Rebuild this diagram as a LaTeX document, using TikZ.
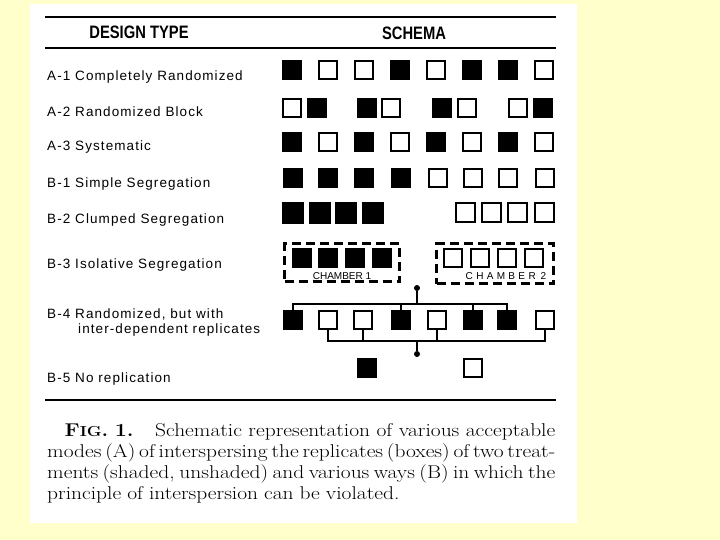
\documentclass[tikz,border=0pt]{standalone}
\usepackage{fontspec}
\usepackage{xcolor}
\usepackage{tikz}
\usetikzlibrary{positioning}

\newfontfamily\arialfont{Liberation Sans}
\newfontfamily\rowfont[LetterSpace=8]{Liberation Sans}
\definecolor{paleyellow}{RGB}{255,255,204}

\tikzset{
  plot/.style={draw=black, line width=2pt, minimum size=18pt, inner sep=0pt, fill=white},
  shaded/.style={plot, fill=black},
  rowlabel/.style={anchor=west, inner sep=0pt, font=\rowfont\fontsize{13.5}{13.5}\selectfont},
  header/.style={inner sep=0pt, xscale=0.82, font=\arialfont\bfseries\fontsize{18}{18}\selectfont},
  chamber/.style={draw, dashed, line width=2.5pt, dash pattern=on 9pt off 5pt, inner sep=0pt},
  chamberlabel/.style={inner sep=0pt, font=\arialfont\fontsize{10}{10}\selectfont},
  hub/.style={circle, fill=black, inner sep=0pt, minimum size=6pt},
  link/.style={line width=1.3pt}
}
\newcommand{\capfont}{\fontsize{18.5}{21}\selectfont\spaceskip=0.28em plus 0.3em minus 0.12em\relax}
\newcommand{\capline}[1]{\makebox[438pt][s]{#1}}

\begin{document}
\begin{tikzpicture}[x=1pt, y=-1pt]
      % page and panel
      \fill[paleyellow] (0,0) rectangle (720,540);
      \useasboundingbox (0,0) rectangle (720,540);
      \fill[white] (30,4) rectangle (577,523);

      % headings
      \draw[line width=1.3pt] (45,17) -- (556,17);
      \draw[line width=1.3pt] (45,48) -- (556,48);
      \node[header] (design) at (139,32) {DESIGN TYPE};
      \node[header] (schema) at (414,33) {SCHEMA};

      % row labels
      \node[rowlabel] (la1) at (47,77) {A-1 Completely Randomized};
      \node[rowlabel] (la2) at (47,112) {A-2 Randomized Block};
      \node[rowlabel] (la3) at (47,147) {A-3 Systematic};
      \node[rowlabel] (lb1) at (47,184) {B-1 Simple Segregation};
      \node[rowlabel] (lb2) at (47,220) {B-2 Clumped Segregation};
      \node[rowlabel] (lb3) at (47,265) {B-3 Isolative Segregation};
      \node[rowlabel] (lb4) at (47,314) {B-4 Randomized, but with};
      \node[rowlabel] (lb4b) at (78,330) {inter-dependent replicates};
      \node[rowlabel] (lb5) at (47,379) {B-5 No replication};

      % A-1
      \node[shaded] (a11) at (292,70) {};
      \node[plot] (a12) at (328,70) {};
      \node[plot] (a13) at (364,70) {};
      \node[shaded] (a14) at (400,70) {};
      \node[plot] (a15) at (436,70) {};
      \node[shaded] (a16) at (472,70) {};
      \node[shaded] (a17) at (508,70) {};
      \node[plot] (a18) at (544,70) {};

      % A-2
      \node[plot] (a21) at (292,108) {};
      \node[shaded] (a22) at (317,108) {};
      \node[shaded] (a23) at (367,108) {};
      \node[plot] (a24) at (391,108) {};
      \node[shaded] (a25) at (442,108) {};
      \node[plot] (a26) at (467,108) {};
      \node[plot] (a27) at (518,108) {};
      \node[shaded] (a28) at (543,108) {};

      % A-3
      \node[shaded] (a31) at (292,142) {};
      \node[plot] (a32) at (328,142) {};
      \node[shaded] (a33) at (364,142) {};
      \node[plot] (a34) at (400,142) {};
      \node[shaded] (a35) at (436,142) {};
      \node[plot] (a36) at (472,142) {};
      \node[shaded] (a37) at (508,142) {};
      \node[plot] (a38) at (544,142) {};

      % B-1
      \node[shaded] (b11) at (293,178) {};
      \node[shaded] (b12) at (328,178) {};
      \node[shaded] (b13) at (364,178) {};
      \node[shaded] (b14) at (401,178) {};
      \node[plot] (b15) at (438,178) {};
      \node[plot] (b16) at (473,178) {};
      \node[plot] (b17) at (508,178) {};
      \node[plot] (b18) at (545,178) {};

      % B-2
      \node[shaded, minimum size=20pt] (b21) at (293,213) {};
      \node[shaded, minimum size=20pt] (b22) at (320,213) {};
      \node[shaded, minimum size=20pt] (b23) at (346,213) {};
      \node[shaded, minimum size=20pt] (b24) at (373,213) {};
      \node[plot, minimum size=19pt] (b25) at (465,213) {};
      \node[plot, minimum size=19pt] (b26) at (491,213) {};
      \node[plot, minimum size=19pt] (b27) at (517,213) {};
      \node[plot, minimum size=19pt] (b28) at (544,213) {};

      % B-3
      \node[chamber, minimum width=115pt, minimum height=38pt] (ch1) at (342,262.5) {};
      \node[chamber, minimum width=117pt, minimum height=40pt] (ch2) at (495,263.5) {};
      \node[shaded] (b31) at (302,258) {};
      \node[shaded] (b32) at (328,258) {};
      \node[shaded] (b33) at (355,258) {};
      \node[shaded] (b34) at (382,258) {};
      \node[plot] (b35) at (453,258) {};
      \node[plot] (b36) at (480,258) {};
      \node[plot] (b37) at (507,258) {};
      \node[plot] (b38) at (534,258) {};
      \node[chamberlabel] (cl1) at (342,276) {CHAMBER 1};
      \node[chamberlabel] (cl2) at (506,276) {C\,\,H\,\,A\,\,M\,\,B\,\,E\,\,R\,\,\,2};

      % B-4
      \node[shaded] (b41) at (293,320) {};
      \node[plot] (b42) at (328,320) {};
      \node[plot] (b43) at (363,320) {};
      \node[shaded] (b44) at (401,320) {};
      \node[plot] (b45) at (437,320) {};
      \node[shaded] (b46) at (473,320) {};
      \node[shaded] (b47) at (507,320) {};
      \node[plot] (b48) at (545,320) {};
      \node[hub] (top) at (417,288) {};
      \node[hub] (bottom) at (417,354) {};
      \coordinate (topjoin) at (417,304);
      \coordinate (botjoin) at (417,341);
      \draw[link] (top) -- (topjoin);
      \draw[link] (b41.north) |- (topjoin);
      \draw[link] (b44.north) |- (topjoin);
      \draw[link] (b46.north) |- (topjoin);
      \draw[link] (b47.north) |- (topjoin);
      \draw[link] (bottom) -- (botjoin);
      \draw[link] (b42.south) |- (botjoin);
      \draw[link] (b43.south) |- (botjoin);
      \draw[link] (b45.south) |- (botjoin);
      \draw[link] (b48.south) |- (botjoin);

      % B-5
      \node[shaded] (b51) at (367,368) {};
      \node[plot] (b52) at (473,368) {};

      % caption
      \draw[line width=1.5pt] (45,400) -- (556,400);
      \node[anchor=north west, inner sep=0pt, xscale=1.16, align=left, font=\capfont] (caption) at (47,423)
        {\capline{\hspace*{15pt}\textbf{F{\fontsize{14.5}{14.5}\selectfont IG}. 1.}\quad Schematic representation of various acceptable}\\
         \capline{modes (A) of interspersing the replicates (boxes) of two treat-}\\
         \capline{ments (shaded, unshaded) and various ways (B) in which the}\\
         principle of interspersion can be violated.};
    \end{tikzpicture}
\end{document}
